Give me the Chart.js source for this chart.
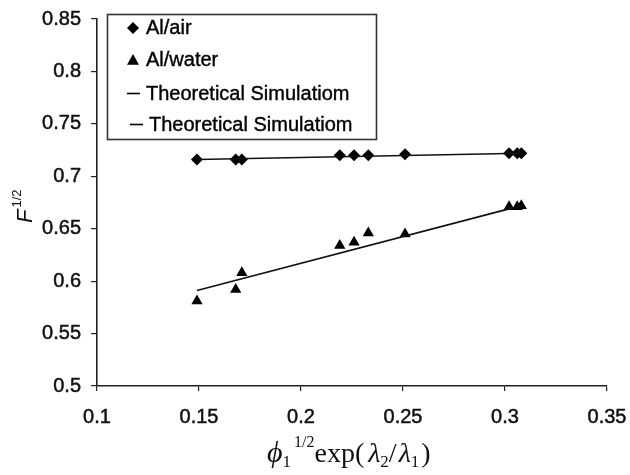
<!DOCTYPE html>
<html>
<head>
<meta charset="utf-8">
<script src="https://cdn.jsdelivr.net/npm/chart.js@4.4.1/dist/chart.umd.min.js"></script>
<style>
  html, body { margin: 0; padding: 0; background: #fff; }
  #wrap { width: 630px; height: 475px; position: relative; }
</style>
</head>
<body>
<div id="wrap"><canvas id="c" width="630" height="475"></canvas></div>
<script>
// ---- data ----
const xValues     = [0.149, 0.168, 0.171, 0.219, 0.226, 0.233, 0.251, 0.302, 0.306, 0.308];
const airValues   = [0.716, 0.716, 0.716, 0.720, 0.720, 0.720, 0.721, 0.722, 0.722, 0.722];
const waterValues = [0.581, 0.592, 0.608, 0.634, 0.637, 0.646, 0.645, 0.671, 0.671, 0.672];
const fitX        = [0.149, 0.308];
const airFitY     = [0.716, 0.722];
const waterFitY   = [0.591, 0.672];
const xTicks      = [0.1, 0.15, 0.2, 0.25, 0.3, 0.35];
const yTicks      = [0.5, 0.55, 0.6, 0.65, 0.7, 0.75, 0.8, 0.85];
const seriesLabels = ['Al/air', 'Al/water', 'Theoretical Simulatiom', 'Theoretical Simulatiom'];

const pts = (xs, ys) => xs.map((x, i) => ({ x: x, y: ys[i] }));
const fmt = v => String(Math.round(v * 100) / 100);

const legendPlugin = {
  id: 'boxLegend',
  afterDraw(chart) {
    const ctx = chart.ctx;
    ctx.save();
    ctx.strokeStyle = '#333';
    ctx.lineWidth = 1.6;
    ctx.strokeRect(107.5, 14.5, 269, 125);
    ctx.fillStyle = '#000';
    ctx.strokeStyle = '#000';
    ctx.font = '20px "Liberation Sans", Arial, sans-serif';
    ctx.textBaseline = 'middle';
    ctx.lineWidth = 0.4;
    const txt = (t, x, y) => { ctx.fillText(t, x, y); ctx.strokeText(t, x, y); };
    // row 1 diamond
    let cx = 133, cy = 28, r = 6;
    ctx.beginPath();
    ctx.moveTo(cx, cy - r); ctx.lineTo(cx + r, cy); ctx.lineTo(cx, cy + r); ctx.lineTo(cx - r, cy);
    ctx.closePath(); ctx.fill();
    txt(seriesLabels[0], 146, 28);
    // row 2 triangle
    cx = 133; cy = 60; r = 6;
    ctx.beginPath();
    ctx.moveTo(cx, cy - r); ctx.lineTo(cx + r, cy + r * 0.8); ctx.lineTo(cx - r, cy + r * 0.8);
    ctx.closePath(); ctx.fill();
    txt(seriesLabels[1], 146, 60);
    // rows 3,4 lines
    ctx.lineWidth = 1.6;
    ctx.beginPath(); ctx.moveTo(127, 93.5); ctx.lineTo(140, 93.5); ctx.stroke();
    ctx.beginPath(); ctx.moveTo(130, 124.5); ctx.lineTo(143, 124.5); ctx.stroke();
    ctx.lineWidth = 0.4;
    txt(seriesLabels[2], 146, 94);
    txt(seriesLabels[3], 149, 125);
    ctx.restore();
  }
};

function drawRich(ctx, x, y, segs) {
  for (const s of segs) {
    ctx.font = s.font;
    x += (s.pre || 0);
    ctx.fillText(s.t, x, y + (s.dy || 0));
    x += ctx.measureText(s.t).width;
  }
}

const titlePlugin = {
  id: 'titles',
  afterDraw(chart) {
    const ctx = chart.ctx;
    ctx.save();
    ctx.fillStyle = '#111';
    ctx.textBaseline = 'alphabetic';
    const serif = '"Liberation Serif", "DejaVu Serif", serif';
    drawRich(ctx, 267, 462, [
      { t: '\u03D5', font: 'italic 30px ' + serif },
      { t: '1', font: '17px ' + serif, dy: 5 },
      { t: '1/2', font: '16px ' + serif, dy: -15, pre: 3 },
      { t: 'exp(', font: '28px ' + serif },
      { t: '\u03BB', font: 'italic 28px ' + serif, pre: 4 },
      { t: '2', font: '17px ' + serif, dy: 5 },
      { t: '/', font: '28px ' + serif },
      { t: '\u03BB', font: 'italic 28px ' + serif, pre: 2 },
      { t: '1', font: '17px ' + serif, dy: 5 },
      { t: ')', font: '28px ' + serif, pre: 2 }
    ]);
    // y title (rotated)
    ctx.translate(32, 223);
    ctx.rotate(-Math.PI / 2);
    const sans = '"Liberation Sans", Arial, sans-serif';
    drawRich(ctx, 0, 0, [
      { t: 'F', font: 'italic 22px ' + sans },
      { t: '1/2', font: '13px ' + sans, dy: -11, pre: 2 }
    ]);
    ctx.restore();
  }
};

const tickFont = { family: '"Liberation Sans", Arial, sans-serif', size: 20 };

new Chart(document.getElementById('c'), {
  type: 'scatter',
  data: {
    datasets: [
      { label: seriesLabels[2], data: pts(fitX, airFitY), showLine: true, borderColor: '#111', borderWidth: 1.6, pointRadius: 0, fill: false },
      { label: seriesLabels[3], data: pts(fitX, waterFitY), showLine: true, borderColor: '#111', borderWidth: 1.6, pointRadius: 0, fill: false },
      { label: seriesLabels[0], data: pts(xValues, airValues), pointStyle: 'rectRot', pointRadius: 6, backgroundColor: '#000', borderColor: '#000', borderWidth: 0 },
      { label: seriesLabels[1], data: pts(xValues, waterValues), pointStyle: 'triangle', pointRadius: 6.5, backgroundColor: '#000', borderColor: '#000', borderWidth: 0 }
    ]
  },
  options: {
    responsive: false,
    animation: false,
    layout: { padding: { left: 0, right: 23, top: 19, bottom: 0 } },
    plugins: { legend: { display: false }, tooltip: { enabled: false } },
    scales: {
      x: {
        type: 'linear', min: 0.1, max: 0.35,
        afterBuildTicks: s => { s.ticks = xTicks.map(v => ({ value: v })); },
        afterFit: s => { s.height = 89; s.paddingLeft = 0; s.paddingRight = 0; },
        ticks: { callback: fmt, font: tickFont, color: '#111', padding: 14, maxRotation: 0, autoSkip: false, textStrokeColor: '#111', textStrokeWidth: 0.5 },
        grid: { drawOnChartArea: false, drawTicks: true, tickLength: 5, color: '#222', lineWidth: 1.2 },
        border: { color: '#222', width: 1.6 }
      },
      y: {
        type: 'linear', min: 0.5, max: 0.85,
        afterBuildTicks: s => { s.ticks = yTicks.map(v => ({ value: v })); },
        afterFit: s => { s.width = 97; s.paddingTop = 0; s.paddingBottom = 0; },
        ticks: { callback: fmt, font: tickFont, color: '#111', padding: 10, autoSkip: false, textStrokeColor: '#111', textStrokeWidth: 0.5 },
        grid: { drawOnChartArea: false, drawTicks: true, tickLength: 6, color: '#222', lineWidth: 1.2 },
        border: { color: '#222', width: 1.6 }
      }
    }
  },
  plugins: [legendPlugin, titlePlugin]
});
</script>
</body>
</html>
